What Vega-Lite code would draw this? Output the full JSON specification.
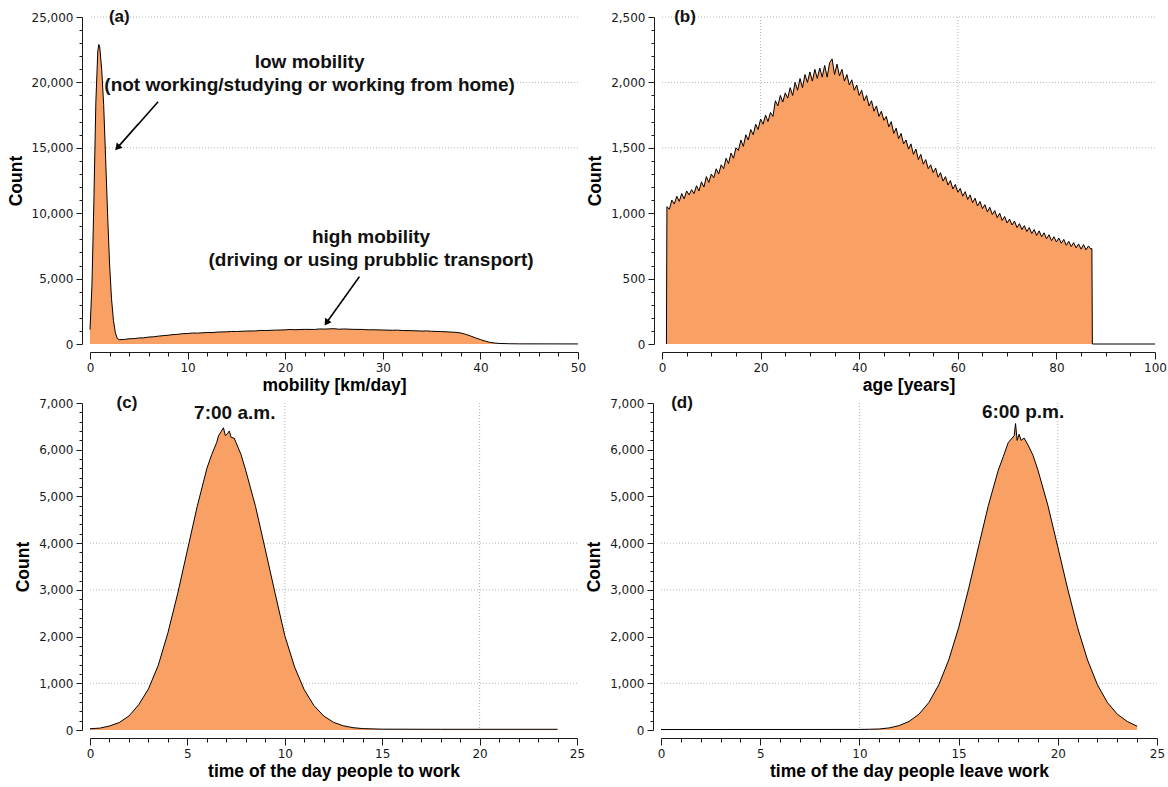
{
  "$schema": "https://vega.github.io/schema/vega-lite/v6.json",
  "padding": {"top": 8, "left": 7, "right": 2, "bottom": 1},
  "background": "white",
  "config": {
    "view": {"stroke": null},
    "axis": {
      "domainColor": "#1a1a1a", "tickColor": "#1a1a1a", "labelFont": "DejaVu Sans", "labelFontSize": 12,
      "labelColor": "#1a1a1a", "titleFont": "Liberation Sans", "titleFontSize": 17.5, "titleFontWeight": "bold",
      "titleColor": "#000000", "grid": false, "labelOverlap": false,
      "labelFlush": false, "offset": 8, "labelPadding": 3, "domainWidth": 1, "tickWidth": 1, "tickCount": 1000
    },
    "axisX": {"titlePadding": 3},
    "axisY": {"titlePadding": 6},
    "rule": {"color": "#b4b4b4", "strokeDash": [1, 2], "strokeWidth": 1},
    "text": {"font": "Liberation Sans", "fontWeight": "bold", "color": "#111111"}
  },
  "datasets": {
    "mob": [
      {"km":0,"count":1100},{"km":0.2,"count":4500},{"km":0.4,"count":11000},{"km":0.6,"count":18500},{"km":0.8,"count":22400},{"km":0.9,"count":22900},{"km":1.0,"count":22700},{"km":1.2,"count":21000},{"km":1.4,"count":18300},{"km":1.6,"count":14200},{"km":1.8,"count":10000},{"km":2.0,"count":6200},{"km":2.2,"count":3500},{"km":2.4,"count":1800},{"km":2.6,"count":850},{"km":2.8,"count":420},{"km":3.0,"count":330},{"km":3.5,"count":350},{"km":4,"count":400},{"km":4.5,"count":410},{"km":5,"count":460},{"km":5.5,"count":470},{"km":6,"count":530},{"km":6.5,"count":550},{"km":7,"count":600},{"km":7.5,"count":640},{"km":8,"count":670},{"km":8.5,"count":720},{"km":9,"count":740},{"km":9.5,"count":790},{"km":10,"count":800},{"km":10.5,"count":840},{"km":11,"count":830},{"km":12,"count":880},{"km":12.5,"count":870},{"km":13,"count":910},{"km":14,"count":930},{"km":14.5,"count":960},{"km":15,"count":955},{"km":16,"count":990},{"km":17,"count":1000},{"km":17.5,"count":1040},{"km":18,"count":1030},{"km":19,"count":1060},{"km":20,"count":1080},{"km":20.5,"count":1110},{"km":21,"count":1090},{"km":22,"count":1120},{"km":23,"count":1110},{"km":23.5,"count":1150},{"km":24,"count":1140},{"km":25,"count":1170},{"km":25.5,"count":1130},{"km":26,"count":1150},{"km":27,"count":1120},{"km":28,"count":1110},{"km":28.5,"count":1080},{"km":29,"count":1090},{"km":30,"count":1070},{"km":31,"count":1050},{"km":31.5,"count":1060},{"km":32,"count":1030},{"km":33,"count":1020},{"km":34,"count":990},{"km":34.5,"count":1000},{"km":35,"count":970},{"km":36,"count":950},{"km":37,"count":910},{"km":37.5,"count":890},{"km":38,"count":840},{"km":38.5,"count":740},{"km":39,"count":610},{"km":39.5,"count":470},{"km":40,"count":340},{"km":40.5,"count":220},{"km":41,"count":120},{"km":41.5,"count":70},{"km":42,"count":40},{"km":43,"count":20},{"km":44,"count":10},{"km":50,"count":5}
    ],
    "gridA": [{"count": 15000}, {"count": 20000}, {"count": 25000}],
    "annA": [
      {"km": 22.5, "count": 21560, "text": "low mobility"},
      {"km": 22.5, "count": 19800, "text": "(not working/studying or working from home)"},
      {"km": 28.8, "count": 8180, "text": "high mobility"},
      {"km": 28.8, "count": 6420, "text": "(driving or using prubblic transport)"}
    ],
    "tagA": [{"km": 3.0, "count": 25000, "text": "(a)"}],
    "arrA": [
      {"id": 1, "km": 6.98, "count": 18525, "km2": 2.81, "count2": 15010},
      {"id": 2, "km": 27.6, "count": 5145, "km2": 24.23, "count2": 1628}
    ],
    "age": [
      {"age":0.9,"count":0},{"age":1.0,"count":1050},{"age":1.5,"count":1030},{"age":2.0,"count":1100},{"age":2.5,"count":1070},{"age":3.0,"count":1130},{"age":3.5,"count":1090},{"age":4.0,"count":1150},{"age":4.5,"count":1110},{"age":5.0,"count":1170},{"age":5.5,"count":1140},{"age":6.0,"count":1180},{"age":6.5,"count":1150},{"age":7.0,"count":1210},{"age":7.5,"count":1170},{"age":8.0,"count":1240},{"age":8.5,"count":1200},{"age":9.0,"count":1280},{"age":9.5,"count":1235},{"age":10.0,"count":1300},{"age":10.5,"count":1270},{"age":11.0,"count":1340},{"age":11.5,"count":1300},{"age":12.0,"count":1370},{"age":12.5,"count":1340},{"age":13.0,"count":1420},{"age":13.5,"count":1380},{"age":14.0,"count":1460},{"age":14.5,"count":1420},{"age":15.0,"count":1500},{"age":15.5,"count":1480},{"age":16.0,"count":1560},{"age":16.5,"count":1510},{"age":17.0,"count":1600},{"age":17.5,"count":1560},{"age":18.0,"count":1640},{"age":18.5,"count":1600},{"age":19.0,"count":1680},{"age":19.5,"count":1640},{"age":20.0,"count":1720},{"age":20.5,"count":1680},{"age":21.0,"count":1750},{"age":21.5,"count":1700},{"age":22.0,"count":1770},{"age":22.5,"count":1740},{"age":23.0,"count":1860},{"age":23.5,"count":1820},{"age":24.0,"count":1900},{"age":24.5,"count":1850},{"age":25.0,"count":1920},{"age":25.5,"count":1880},{"age":26.0,"count":1960},{"age":26.5,"count":1900},{"age":27.0,"count":2000},{"age":27.5,"count":1940},{"age":28.0,"count":2030},{"age":28.5,"count":1960},{"age":29.0,"count":2060},{"age":29.5,"count":2000},{"age":30.0,"count":2080},{"age":30.5,"count":2010},{"age":31.0,"count":2100},{"age":31.5,"count":2030},{"age":32.0,"count":2110},{"age":32.5,"count":2040},{"age":33.0,"count":2130},{"age":33.5,"count":2040},{"age":34.0,"count":2150},{"age":34.5,"count":2180},{"age":35.0,"count":2060},{"age":35.5,"count":2140},{"age":36.0,"count":2050},{"age":36.5,"count":2100},{"age":37.0,"count":2010},{"age":37.5,"count":2060},{"age":38.0,"count":1980},{"age":38.5,"count":2020},{"age":39.0,"count":1940},{"age":39.5,"count":1980},{"age":40.0,"count":1900},{"age":40.5,"count":1940},{"age":41.0,"count":1860},{"age":41.5,"count":1900},{"age":42.0,"count":1820},{"age":42.5,"count":1860},{"age":43.0,"count":1780},{"age":43.5,"count":1820},{"age":44.0,"count":1740},{"age":44.5,"count":1780},{"age":45.0,"count":1710},{"age":45.5,"count":1740},{"age":46.0,"count":1660},{"age":46.5,"count":1700},{"age":47.0,"count":1610},{"age":47.5,"count":1650},{"age":48.0,"count":1570},{"age":48.5,"count":1610},{"age":49.0,"count":1530},{"age":49.5,"count":1560},{"age":50.0,"count":1490},{"age":50.5,"count":1530},{"age":51.0,"count":1450},{"age":51.5,"count":1490},{"age":52.0,"count":1410},{"age":52.5,"count":1450},{"age":53.0,"count":1375},{"age":53.5,"count":1410},{"age":54.0,"count":1340},{"age":54.5,"count":1370},{"age":55.0,"count":1310},{"age":55.5,"count":1345},{"age":56.0,"count":1275},{"age":56.5,"count":1310},{"age":57.0,"count":1245},{"age":57.5,"count":1280},{"age":58.0,"count":1215},{"age":58.5,"count":1250},{"age":59.0,"count":1185},{"age":59.5,"count":1220},{"age":60.0,"count":1160},{"age":60.5,"count":1190},{"age":61.0,"count":1130},{"age":61.5,"count":1165},{"age":62.0,"count":1105},{"age":62.5,"count":1140},{"age":63.0,"count":1080},{"age":63.5,"count":1115},{"age":64.0,"count":1055},{"age":64.5,"count":1090},{"age":65.0,"count":1035},{"age":65.5,"count":1065},{"age":66.0,"count":1010},{"age":66.5,"count":1045},{"age":67.0,"count":990},{"age":67.5,"count":1020},{"age":68.0,"count":965},{"age":68.5,"count":1000},{"age":69.0,"count":945},{"age":69.5,"count":975},{"age":70.0,"count":925},{"age":70.5,"count":955},{"age":71.0,"count":910},{"age":71.5,"count":940},{"age":72.0,"count":890},{"age":72.5,"count":920},{"age":73.0,"count":875},{"age":73.5,"count":905},{"age":74.0,"count":860},{"age":74.5,"count":890},{"age":75.0,"count":845},{"age":75.5,"count":875},{"age":76.0,"count":830},{"age":76.5,"count":865},{"age":77.0,"count":820},{"age":77.5,"count":850},{"age":78.0,"count":805},{"age":78.5,"count":835},{"age":79.0,"count":790},{"age":79.5,"count":820},{"age":80.0,"count":780},{"age":80.5,"count":810},{"age":81.0,"count":770},{"age":81.5,"count":800},{"age":82.0,"count":755},{"age":82.5,"count":785},{"age":83.0,"count":745},{"age":83.5,"count":775},{"age":84.0,"count":735},{"age":84.5,"count":765},{"age":85.0,"count":725},{"age":85.5,"count":760},{"age":86.0,"count":720},{"age":86.5,"count":750},{"age":87.0,"count":725},{"age":87.2,"count":730},{"age":87.3,"count":0},{"age":100,"count":0}
    ],
    "gridBy": [{"count": 1500}, {"count": 2000}, {"count": 2500}],
    "gridBx": [{"age": 20}, {"age": 60}],
    "tagB": [{"age": 4.67, "count": 2500, "text": "(b)"}],
    "tw": [
      {"h":0,"count":28},{"h":0.5,"count":40},{"h":1,"count":85},{"h":1.5,"count":160},{"h":2,"count":300},{"h":2.5,"count":540},{"h":3,"count":880},{"h":3.5,"count":1380},{"h":4,"count":2080},{"h":4.5,"count":2920},{"h":5,"count":3850},{"h":5.5,"count":4780},{"h":6,"count":5600},{"h":6.25,"count":5900},{"h":6.5,"count":6150},{"h":6.6,"count":6300},{"h":6.75,"count":6400},{"h":6.85,"count":6470},{"h":6.95,"count":6300},{"h":7.05,"count":6340},{"h":7.15,"count":6400},{"h":7.25,"count":6260},{"h":7.4,"count":6250},{"h":7.5,"count":6150},{"h":7.75,"count":5900},{"h":8,"count":5550},{"h":8.5,"count":4780},{"h":9,"count":3860},{"h":9.5,"count":2930},{"h":10,"count":2020},{"h":10.5,"count":1350},{"h":11,"count":860},{"h":11.5,"count":520},{"h":12,"count":300},{"h":12.5,"count":165},{"h":13,"count":90},{"h":13.5,"count":50},{"h":14,"count":30},{"h":15,"count":18},{"h":18,"count":15},{"h":24,"count":15}
    ],
    "gridCy": [{"count": 1000}, {"count": 3000}, {"count": 4000}],
    "gridCx": [{"h": 10}, {"h": 20}],
    "tagC": [
      {"h": 1.9, "count": 7000, "text": "(c)", "size": 17},
      {"h": 7.43, "count": 6786, "text": "7:00 a.m.", "size": 19}
    ],
    "tl": [
      {"h":0,"count":10},{"h":10,"count":12},{"h":10.5,"count":16},{"h":11,"count":22},{"h":11.5,"count":45},{"h":12,"count":94},{"h":12.5,"count":183},{"h":13,"count":338},{"h":13.5,"count":588},{"h":14,"count":966},{"h":14.5,"count":1497},{"h":15,"count":2187},{"h":15.5,"count":3015},{"h":16,"count":3919},{"h":16.5,"count":4808},{"h":17,"count":5562},{"h":17.25,"count":5850},{"h":17.5,"count":6150},{"h":17.7,"count":6250},{"h":17.8,"count":6300},{"h":17.87,"count":6560},{"h":17.95,"count":6200},{"h":18.05,"count":6330},{"h":18.15,"count":6200},{"h":18.3,"count":6250},{"h":18.5,"count":6100},{"h":18.75,"count":5880},{"h":19,"count":5562},{"h":19.5,"count":4808},{"h":20,"count":3919},{"h":20.5,"count":3015},{"h":21,"count":2187},{"h":21.5,"count":1497},{"h":22,"count":966},{"h":22.5,"count":588},{"h":23,"count":338},{"h":23.5,"count":183},{"h":24,"count":80}
    ],
    "tagD": [
      {"h": 1.06, "count": 7000, "text": "(d)", "size": 17},
      {"h": 18.25, "count": 6800, "text": "6:00 p.m.", "size": 19}
    ]
  },
  "spacing": 0,
  "vconcat": [
    {
      "spacing": 0,
      "hconcat": [
        {
          "width": 488, "height": 327,
          "layer": [
            {
              "data": {"name": "gridA"},
              "mark": {"type": "rule"},
              "encoding": {"y": {"field": "count", "type": "quantitative"}}
            },
            {
              "data": {"name": "mob"},
              "mark": {"type": "area", "color": "#F9A064", "opacity": 1, "fillOpacity": 1, "line": {"color": "#000000", "strokeWidth": 1}},
              "encoding": {
                "x": {"field": "km", "type": "quantitative", "scale": {"domain": [0, 50], "nice": false},
                  "axis": {"title": "mobility [km/day]", "grid": false, "labelOverlap": false, "tickCount": 1000,
                    "values": [0,2,4,6,8,10,12,14,16,18,20,22,24,26,28,30,32,34,36,38,40,42,44,46,48,50],
                    "labelExpr": "datum.value % 10 === 0 ? format(datum.value, ',') : ''",
                    "tickSize": {"condition": {"test": "datum.value % 10 === 0", "value": 7}, "value": 4}}},
                "y": {"field": "count", "type": "quantitative", "scale": {"domain": [0, 25000], "nice": false},
                  "axis": {"title": "Count", "grid": false, "labelOverlap": false, "tickCount": 1000,
                    "values": [0,1000,2000,3000,4000,5000,6000,7000,8000,9000,10000,11000,12000,13000,14000,15000,16000,17000,18000,19000,20000,21000,22000,23000,24000,25000],
                    "labelExpr": "datum.value % 5000 === 0 ? format(datum.value, ',') : ''",
                    "tickSize": {"condition": {"test": "datum.value % 5000 === 0", "value": 6}, "value": 3}}}
              }
            },
            {
              "data": {"name": "arrA"},
              "mark": {"type": "rule", "color": "#000000", "strokeWidth": 1.6, "strokeDash": [1, 0]},
              "encoding": {
                "x": {"field": "km", "type": "quantitative"}, "y": {"field": "count", "type": "quantitative"},
                "x2": {"field": "km2"}, "y2": {"field": "count2"}
              }
            },
            {
              "data": {"name": "arrA"},
              "transform": [{"filter": "datum.id === 1"}],
              "mark": {"type": "point", "shape": "triangle-up", "filled": true, "color": "#000000", "size": 60, "angle": 221.5, "opacity": 1},
              "encoding": {"x": {"field": "km2", "type": "quantitative"}, "y": {"field": "count2", "type": "quantitative"}}
            },
            {
              "data": {"name": "arrA"},
              "transform": [{"filter": "datum.id === 2"}],
              "mark": {"type": "point", "shape": "triangle-up", "filled": true, "color": "#000000", "size": 60, "angle": 214.5, "opacity": 1},
              "encoding": {"x": {"field": "km2", "type": "quantitative"}, "y": {"field": "count2", "type": "quantitative"}}
            },
            {
              "data": {"name": "annA"},
              "mark": {"type": "text", "fontSize": 19, "baseline": "middle", "align": "center"},
              "encoding": {"x": {"field": "km", "type": "quantitative"}, "y": {"field": "count", "type": "quantitative"}, "text": {"field": "text"}}
            },
            {
              "data": {"name": "tagA"},
              "mark": {"type": "text", "fontSize": 17, "baseline": "middle", "align": "center"},
              "encoding": {"x": {"field": "km", "type": "quantitative"}, "y": {"field": "count", "type": "quantitative"}, "text": {"field": "text"}}
            }
          ]
        },
        {
          "width": 493, "height": 327,
          "layer": [
            {
              "data": {"name": "gridBy"},
              "mark": {"type": "rule"},
              "encoding": {"y": {"field": "count", "type": "quantitative"}}
            },
            {
              "data": {"name": "gridBx"},
              "mark": {"type": "rule"},
              "encoding": {"x": {"field": "age", "type": "quantitative"}}
            },
            {
              "data": {"name": "age"},
              "mark": {"type": "area", "color": "#F9A064", "opacity": 1, "fillOpacity": 1, "line": {"color": "#000000", "strokeWidth": 1}},
              "encoding": {
                "x": {"field": "age", "type": "quantitative", "scale": {"domain": [0, 100], "nice": false},
                  "axis": {"title": "age [years]", "grid": false, "labelOverlap": false, "tickCount": 1000,
                    "values": [0,5,10,15,20,25,30,35,40,45,50,55,60,65,70,75,80,85,90,95,100],
                    "labelExpr": "datum.value % 20 === 0 ? format(datum.value, ',') : ''",
                    "tickSize": {"condition": {"test": "datum.value % 20 === 0", "value": 7}, "value": 4}}},
                "y": {"field": "count", "type": "quantitative", "scale": {"domain": [0, 2500], "nice": false},
                  "axis": {"title": "Count", "grid": false, "labelOverlap": false, "tickCount": 1000,
                    "values": [0,100,200,300,400,500,600,700,800,900,1000,1100,1200,1300,1400,1500,1600,1700,1800,1900,2000,2100,2200,2300,2400,2500],
                    "labelExpr": "datum.value % 500 === 0 ? format(datum.value, ',') : ''",
                    "tickSize": {"condition": {"test": "datum.value % 500 === 0", "value": 6}, "value": 3}}}
              }
            },
            {
              "data": {"name": "tagB"},
              "mark": {"type": "text", "fontSize": 17, "baseline": "middle", "align": "center"},
              "encoding": {"x": {"field": "age", "type": "quantitative"}, "y": {"field": "count", "type": "quantitative"}, "text": {"field": "text"}}
            }
          ]
        }
      ]
    },
    {
      "spacing": 0,
      "hconcat": [
        {
          "width": 487, "height": 327,
          "layer": [
            {
              "data": {"name": "gridCy"},
              "mark": {"type": "rule"},
              "encoding": {"y": {"field": "count", "type": "quantitative"}}
            },
            {
              "data": {"name": "gridCx"},
              "mark": {"type": "rule"},
              "encoding": {"x": {"field": "h", "type": "quantitative"}}
            },
            {
              "data": {"name": "tw"},
              "mark": {"type": "area", "color": "#F9A064", "opacity": 1, "fillOpacity": 1, "line": {"color": "#000000", "strokeWidth": 1}},
              "encoding": {
                "x": {"field": "h", "type": "quantitative", "scale": {"domain": [0, 25], "nice": false},
                  "axis": {"title": "time of the day people to work", "grid": false, "labelOverlap": false, "tickCount": 1000,
                    "values": [0,1,2,3,4,5,6,7,8,9,10,11,12,13,14,15,16,17,18,19,20,21,22,23,24,25],
                    "labelExpr": "datum.value % 5 === 0 ? format(datum.value, ',') : ''",
                    "tickSize": {"condition": {"test": "datum.value % 5 === 0", "value": 7}, "value": 4}}},
                "y": {"field": "count", "type": "quantitative", "scale": {"domain": [0, 7000], "nice": false},
                  "axis": {"title": "Count", "grid": false, "labelOverlap": false, "tickCount": 1000,
                    "values": [0,200,400,600,800,1000,1200,1400,1600,1800,2000,2200,2400,2600,2800,3000,3200,3400,3600,3800,4000,4200,4400,4600,4800,5000,5200,5400,5600,5800,6000,6200,6400,6600,6800,7000],
                    "labelExpr": "datum.value % 1000 === 0 ? format(datum.value, ',') : ''",
                    "tickSize": {"condition": {"test": "datum.value % 1000 === 0", "value": 6}, "value": 3}}}
              }
            },
            {
              "data": {"name": "tagC"},
              "mark": {"type": "text", "baseline": "middle", "align": "center"},
              "encoding": {"x": {"field": "h", "type": "quantitative"}, "y": {"field": "count", "type": "quantitative"}, "text": {"field": "text"},
                "size": {"field": "size", "type": "quantitative", "scale": null}}
            }
          ]
        },
        {
          "width": 496, "height": 327,
          "layer": [
            {
              "data": {"name": "gridCy"},
              "mark": {"type": "rule"},
              "encoding": {"y": {"field": "count", "type": "quantitative"}}
            },
            {
              "data": {"name": "gridCx"},
              "mark": {"type": "rule"},
              "encoding": {"x": {"field": "h", "type": "quantitative"}}
            },
            {
              "data": {"name": "tl"},
              "mark": {"type": "area", "color": "#F9A064", "opacity": 1, "fillOpacity": 1, "line": {"color": "#000000", "strokeWidth": 1}},
              "encoding": {
                "x": {"field": "h", "type": "quantitative", "scale": {"domain": [0, 25], "nice": false},
                  "axis": {"title": "time of the day people leave work", "grid": false, "labelOverlap": false, "tickCount": 1000,
                    "values": [0,1,2,3,4,5,6,7,8,9,10,11,12,13,14,15,16,17,18,19,20,21,22,23,24,25],
                    "labelExpr": "datum.value % 5 === 0 ? format(datum.value, ',') : ''",
                    "tickSize": {"condition": {"test": "datum.value % 5 === 0", "value": 7}, "value": 4}}},
                "y": {"field": "count", "type": "quantitative", "scale": {"domain": [0, 7000], "nice": false},
                  "axis": {"title": "Count", "grid": false, "labelOverlap": false, "tickCount": 1000,
                    "values": [0,200,400,600,800,1000,1200,1400,1600,1800,2000,2200,2400,2600,2800,3000,3200,3400,3600,3800,4000,4200,4400,4600,4800,5000,5200,5400,5600,5800,6000,6200,6400,6600,6800,7000],
                    "labelExpr": "datum.value % 1000 === 0 ? format(datum.value, ',') : ''",
                    "tickSize": {"condition": {"test": "datum.value % 1000 === 0", "value": 6}, "value": 3}}}
              }
            },
            {
              "data": {"name": "tagD"},
              "mark": {"type": "text", "baseline": "middle", "align": "center"},
              "encoding": {"x": {"field": "h", "type": "quantitative"}, "y": {"field": "count", "type": "quantitative"}, "text": {"field": "text"},
                "size": {"field": "size", "type": "quantitative", "scale": null}}
            }
          ]
        }
      ]
    }
  ]
}
